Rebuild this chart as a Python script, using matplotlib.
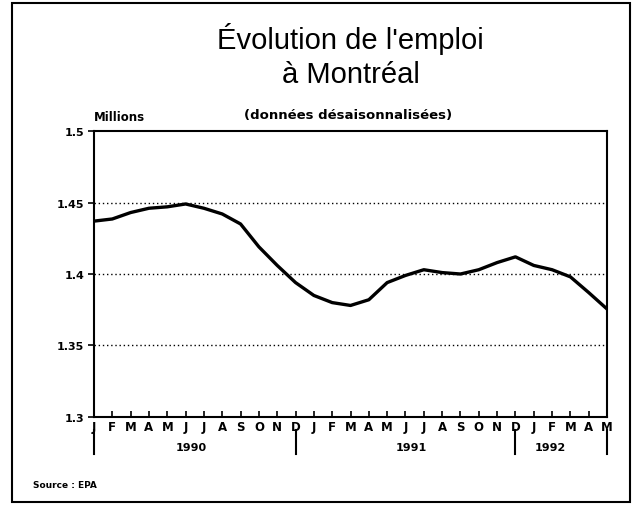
import matplotlib
matplotlib.use("Agg")
import matplotlib.pyplot as plt
from matplotlib.patches import Rectangle

# emploi desaisonnalise, Montreal, millions (jan 1990 - mai 1992)
mois = ['J', 'F', 'M', 'A', 'M', 'J', 'J', 'A', 'S', 'O', 'N', 'D',
        'J', 'F', 'M', 'A', 'M', 'J', 'J', 'A', 'S', 'O', 'N', 'D',
        'J', 'F', 'M', 'A', 'M']
emploi = [1.437, 1.4385, 1.443, 1.446, 1.447, 1.449, 1.446, 1.442, 1.435, 1.419, 1.406, 1.394,
          1.385, 1.380, 1.378, 1.382, 1.394, 1.399, 1.403, 1.401, 1.400, 1.403, 1.408, 1.412,
          1.406, 1.403, 1.398, 1.387, 1.3755]
annees = ['1990', '1991', '1992']
pos_annees = [5.3, 17.3, 24.9]
separateurs = [0, 11, 23, 28]

fig = plt.figure(figsize=(6.35, 5.06), dpi=100)
ax = fig.add_axes([0.148, 0.174, 0.808, 0.565])

x = list(range(len(emploi)))
ax.plot(x, emploi, color='black', linewidth=2.4, solid_joinstyle='round')

ax.set_xlim(0, 28)
ax.set_ylim(1.3, 1.5)
for v in [1.35, 1.4, 1.45]:
    ax.axhline(v, color='black', linestyle=(0, (1, 2)), linewidth=1)

ax.set_yticks([1.3, 1.35, 1.4, 1.45, 1.5])
ax.set_yticklabels(['1.3', '1.35', '1.4', '1.45', '1.5'], fontweight='bold', fontsize=8)
ax.tick_params(axis='y', length=4, width=1.2, direction='out', pad=3)

ax.set_xticks(x)
ax.set_xticklabels(mois, fontweight='bold', fontsize=8.5)
ax.tick_params(axis='x', length=4, width=1.2, direction='in', pad=2)

for s in ax.spines.values():
    s.set_linewidth(1.5)

# annees et separateurs sous l'axe
for p, a in zip(pos_annees, annees):
    ax.text(p, -0.105, a, transform=ax.get_xaxis_transform(), ha='center', va='center',
            fontsize=8, fontweight='bold')
for s in separateurs:
    ax.plot([s, s], [-0.045, -0.13], transform=ax.get_xaxis_transform(), color='black',
            linewidth=1.5, clip_on=False)

fig.text(0.552, 0.922, "Évolution de l'emploi", ha='center', va='center', fontsize=21,
         family='Liberation Sans')
fig.text(0.552, 0.852, "à Montréal", ha='center', va='center', fontsize=21,
         family='Liberation Sans')
fig.text(0.548, 0.772, "(données désaisonnalisées)", ha='center', va='center', fontsize=9.5,
         fontweight='bold')
fig.text(0.148, 0.767, "Millions", ha='left', va='center', fontsize=8.5, fontweight='bold')
fig.text(0.052, 0.040, "Source : EPA", ha='left', va='center', fontsize=6.5, fontweight='bold')

fig.patches.append(Rectangle((12 / 635, 3 / 506), 618 / 635, 499 / 506, transform=fig.transFigure,
                             fill=False, edgecolor='black', linewidth=1.5))

fig.savefig("out.png", dpi=100)
